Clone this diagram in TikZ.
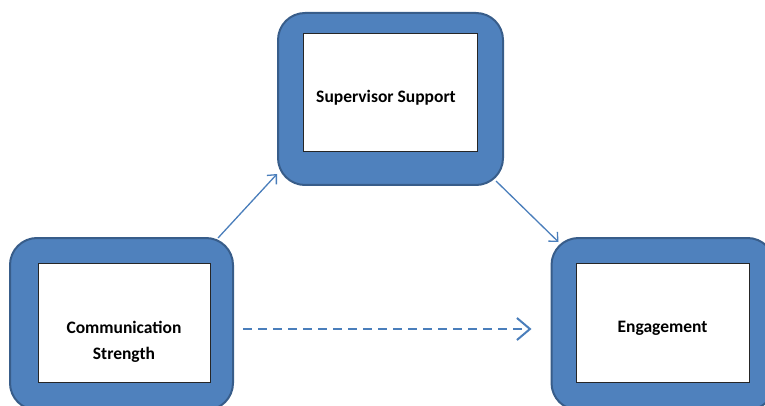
\documentclass[tikz,border=0pt]{standalone}
\usepackage{fontspec}
\setmainfont{Carlito}
\usetikzlibrary{arrows.meta,calc}
\definecolor{framefill}{HTML}{4F81BD}
\definecolor{frameline}{HTML}{385D8A}
\definecolor{linkblue}{HTML}{4A7EBB}
\tikzset{
  frame/.style={draw=frameline, line width=2pt, fill=framefill,
    rounded corners=27pt, minimum width=223pt, minimum height=172pt,
    inner sep=0pt},
  card/.style={draw=black!85, line width=0.9pt, fill=white,
    minimum width=173pt, minimum height=119pt, inner sep=0pt},
  cardtext/.style={inner sep=0pt, align=center,
    font=\fontsize{17.5}{26}\selectfont\bfseries},
  link/.style={draw=linkblue, line width=1.3pt,
    -{Straight Barb[length=7pt,width=13pt,line width=1.3pt]}},
  dashlink/.style={draw=linkblue, line width=2pt, dash pattern=on 9pt off 6pt,
    -{Straight Barb[length=13pt,width=22pt,line width=2pt]}}
}
\begin{document}
\begin{tikzpicture}[x=1pt,y=-1pt]
  \useasboundingbox (0,0) rectangle (765,406);
  \clip (0,0) rectangle (765,406);
  % outer rounded frames
  \node[frame, minimum width=225pt] (ss) at (390.5,99) {};
  \node[frame] (cs) at (121.5,324) {};
  \node[frame] (en) at (663,324) {};
  % inner white cards
  \node[card, minimum width=174pt, minimum height=118pt] (ssin) at (390,92) {};
  \node[card, minimum width=172pt] (csin) at (124,322.5) {};
  \node[card] (enin) at (662.5,322.5) {};
  % labels
  \node[cardtext] (sstxt) at (386,98) {Supervisor Support};
  \node[cardtext] (cstxt) at (124,341.5) {Communication\\Strength};
  \node[cardtext] (entxt) at (662.5,328.5) {Engagement};
  % connectors
  \draw[link] ($(cs.north east)+(-16,1)$) -- ($(ss.south west)+(0,-12)$);
  \draw[link] ($(ss.south east)+(-8,-5)$) -- ($(en.north west)+(8,5)$);
  \draw[dashlink] ($(cs.east)+(9,5)$) -- ($(en.west)+(-19,5)$);
\end{tikzpicture}
\end{document}
